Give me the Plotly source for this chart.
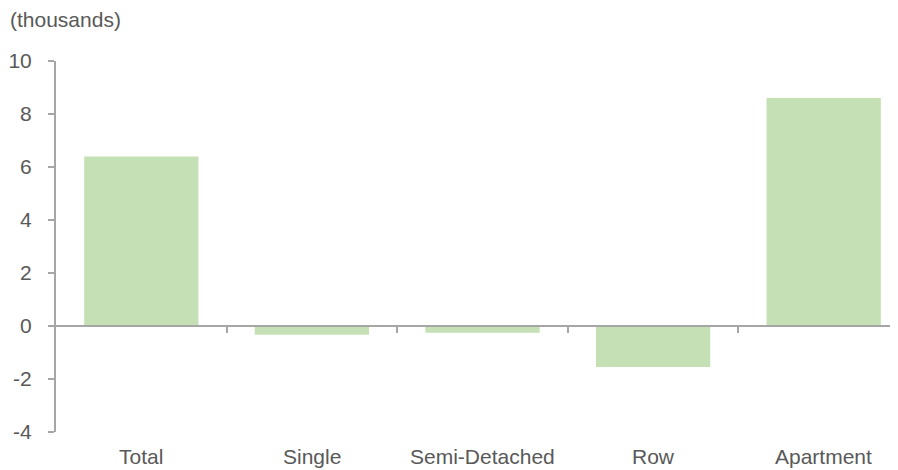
import plotly.graph_objects as go

categories = ["Total", "Single", "Semi-Detached", "Row", "Apartment"]
values = [6.4, -0.33, -0.25, -1.55, 8.6]
y_ticks = [-4, -2, 0, 2, 4, 6, 8, 10]
unit_label = "(thousands)"

TEXT = "#595959"
AXIS = "#a6a6a6"
FONT = "Liberation Sans, Arial, sans-serif"
FS = 21

# page body has an 8px offset; compensate in margins
OFF = 8
W, H = 898, 470
ML, MR, MT, MB = 56 - OFF, 0, 61 - OFF, 38 + OFF
pw = W - ML - MR
cat_px = 170.6

fig = go.Figure(go.Bar(
    x=list(range(len(categories))), y=values,
    marker=dict(color="#c5e0b4", line=dict(width=0)),
    width=0.67, hoverinfo="skip",
))

fig.update_layout(
    width=W, height=H,
    margin=dict(l=ML, r=MR, t=MT, b=MB, pad=0),
    paper_bgcolor="white", plot_bgcolor="white",
    showlegend=False,
    font=dict(family=FONT, size=FS, color=TEXT),
    xaxis=dict(
        range=[-0.5, -0.5 + pw / cat_px],
        anchor="free", position=4 / 14,
        showline=True, linecolor=AXIS, linewidth=2,
        tickmode="array", tickvals=[0.5, 1.5, 2.5, 3.5],
        ticks="outside", ticklen=6, tickwidth=1.5, tickcolor=AXIS,
        showticklabels=False, showgrid=False, zeroline=False,
    ),
    yaxis=dict(
        range=[-4, 10], tickmode="array", tickvals=y_ticks,
        ticktext=[str(v) for v in y_ticks],
        showline=True, linecolor=AXIS, linewidth=2,
        ticks="outside", ticklen=6, tickwidth=1.5, tickcolor=AXIS,
        showgrid=False, zeroline=False,
        ticklabelstandoff=12,
        tickfont=dict(family=FONT, size=FS, color=TEXT),
    ),
)

for i, c in enumerate(categories):
    fig.add_annotation(x=i, y=0, xref="x", yref="paper", text=c,
                       showarrow=False, yanchor="top", yshift=-11,
                       font=dict(family=FONT, size=FS, color=TEXT))

fig.add_annotation(x=(8 - 56) / pw, y=1, xref="paper", yref="paper",
                   text=unit_label, showarrow=False, xanchor="left",
                   yanchor="middle", yshift=(61 - 19),
                   font=dict(family=FONT, size=FS, color=TEXT))

fig.write_html("out.html")
